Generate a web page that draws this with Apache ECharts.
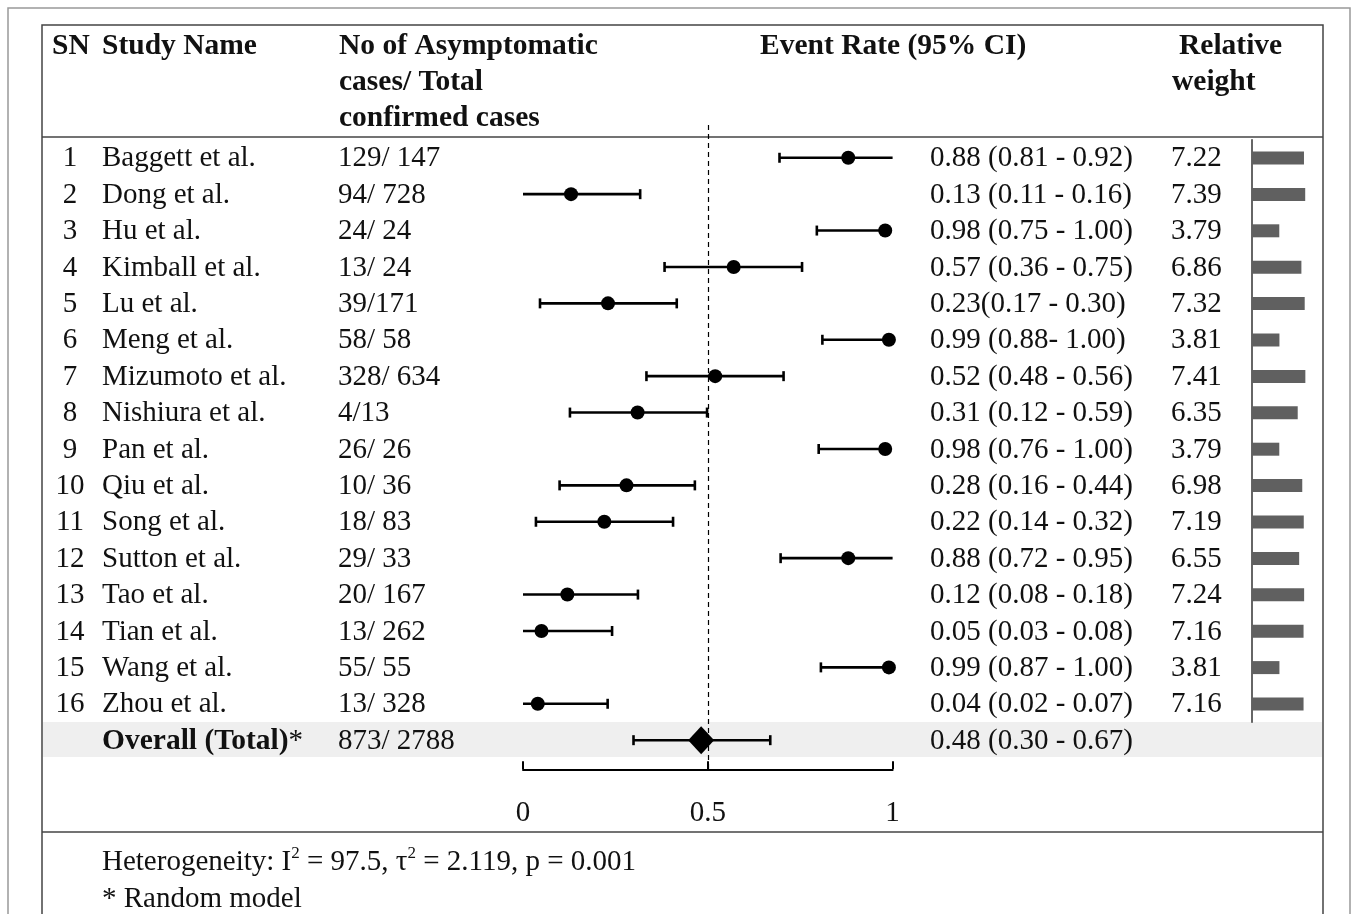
<!DOCTYPE html>
<html>
<head>
<meta charset="utf-8">
<script src="https://cdn.jsdelivr.net/npm/echarts@6/dist/echarts.min.js"></script>
<style>
  html, body { margin: 0; padding: 0; background: #fff; }
  #chart { width: 1357px; height: 914px; }
</style>
</head>
<body>
<div id="chart"></div>
<script>
// study table
const snLabels = ['1','2','3','4','5','6','7','8','9','10','11','12','13','14','15','16'];
const studies = ['Baggett et al.','Dong et al.','Hu et al.','Kimball et al.','Lu et al.','Meng et al.',
  'Mizumoto et al.','Nishiura et al.','Pan et al.','Qiu et al.','Song et al.','Sutton et al.',
  'Tao et al.','Tian et al.','Wang et al.','Zhou et al.'];
const cases = ['129/ 147','94/ 728','24/ 24','13/ 24','39/171','58/ 58','328/ 634','4/13',
  '26/ 26','10/ 36','18/ 83','29/ 33','20/ 167','13/ 262','55/ 55','13/ 328'];
const rateText = ['0.88 (0.81 - 0.92)','0.13 (0.11 - 0.16)','0.98 (0.75 - 1.00)','0.57 (0.36 - 0.75)',
  '0.23(0.17 - 0.30)','0.99 (0.88- 1.00)','0.52 (0.48 - 0.56)','0.31 (0.12 - 0.59)',
  '0.98 (0.76 - 1.00)','0.28 (0.16 - 0.44)','0.22 (0.14 - 0.32)','0.88 (0.72 - 0.95)',
  '0.12 (0.08 - 0.18)','0.05 (0.03 - 0.08)','0.99 (0.87 - 1.00)','0.04 (0.02 - 0.07)'];
const weights = [7.22,7.39,3.79,6.86,7.32,3.81,7.41,6.35,3.79,6.98,7.19,6.55,7.24,7.16,3.81,7.16];

// what is drawn in the plot (whiskers as drawn in the figure)
const pointEst = [0.88,0.13,0.98,0.57,0.23,0.99,0.52,0.31,0.98,0.28,0.22,0.88,0.12,0.05,0.99,0.04];
const drawnLo = [0.694,0.0,0.795,0.383,0.046,0.810,0.334,0.127,0.800,0.099,0.035,0.697,0.0,0.0,0.806,0.0];
const drawnHi = [1.0,0.317,0.98,0.755,0.416,0.99,0.705,0.498,0.98,0.465,0.406,1.0,0.311,0.241,0.99,0.229];

// pooled
const overallLabel = 'Overall (Total)';
const overallCases = '873/ 2788';
const overallText = '0.48 (0.30 - 0.67)';
const overallEst = 0.482;
const overallLo = 0.299;
const overallHi = 0.669;

const xTicks = [0, 0.5, 1];

const FONT = '"Liberation Serif", "Times New Roman", serif';
const BODY = '29px ' + FONT;
const BOLD = 'bold 29.5px ' + FONT;
const ROW_OVERALL = studies.length;

const chart = echarts.init(document.getElementById('chart'));

// whisker rows: [lo, hi, row, capLo, capHi]
const ciData = studies.map((s, i) => [
  drawnLo[i], drawnHi[i], i,
  drawnLo[i] > 0.001 ? 1 : 0,
  (drawnHi[i] < 0.995 && drawnHi[i] > pointEst[i] + 0.01) ? 1 : 0
]);
ciData.push([overallLo, overallHi, ROW_OVERALL, 1, 1]);

function renderCI(params, api) {
  const lo = api.value(0), hi = api.value(1), row = api.value(2);
  const a = api.coord([lo, row]);
  const b = api.coord([hi, row]);
  const st = { stroke: '#000', lineWidth: 2.6 };
  const kids = [{ type: 'line', shape: { x1: a[0], y1: a[1], x2: b[0], y2: b[1] }, style: st }];
  if (api.value(3)) kids.push({ type: 'line', shape: { x1: a[0], y1: a[1] - 5, x2: a[0], y2: a[1] + 5 }, style: st });
  if (api.value(4)) kids.push({ type: 'line', shape: { x1: b[0], y1: b[1] - 5, x2: b[0], y2: b[1] + 5 }, style: st });
  return { type: 'group', children: kids };
}

function txt(x, y, text, extra) {
  return {
    type: 'text', x: x, y: y,
    style: Object.assign({ text: text, font: BODY, fill: '#111', verticalAlign: 'middle', align: 'left' }, extra || {})
  };
}

function renderTable(params, api) {
  const i = params.dataIndex;
  const y = api.coord([0, api.value(0)])[1] + 1;
  if (i < studies.length) {
    return { type: 'group', children: [
      txt(70, y, snLabels[i], { align: 'center' }),
      txt(102, y, studies[i]),
      txt(338, y, cases[i]),
      txt(930, y, rateText[i]),
      txt(1171, y, weights[i].toFixed(2))
    ] };
  }
  return { type: 'group', children: [
    {
      type: 'text', x: 102, y: y,
      style: {
        text: '{b|' + overallLabel + '}{n|*}', verticalAlign: 'middle',
        rich: {
          b: { font: BOLD, fill: '#111' },
          n: { font: BODY, fill: '#111' }
        }
      }
    },
    txt(338, y, overallCases),
    txt(930, y, overallText)
  ] };
}

const tableRows = studies.map((s, i) => [i]).concat([[ROW_OVERALL]]);

const hdr = (x, y, t) => ({
  type: 'text', x: x, y: y, z: 5,
  style: { text: t, font: BOLD, fill: '#111', verticalAlign: 'middle' }
});

const option = {
  backgroundColor: '#fff',
  animation: false,
  grid: [
    { left: 523, width: 369.6, top: 125, height: 644.3 },
    { left: 1252, width: 72, top: 139.8, height: 582.4 }
  ],
  xAxis: [
    {
      gridIndex: 0, type: 'value', min: 0, max: 1, interval: 0.5,
      axisLine: { show: true, onZero: false, lineStyle: { color: '#000', width: 2 } },
      axisTick: { show: true, inside: true, length: 8, lineStyle: { color: '#000', width: 2 } },
      axisLabel: {
        margin: 30, fontSize: 29, fontFamily: FONT, color: '#111',
        formatter: v => xTicks.indexOf(v) >= 0 ? String(v) : ''
      },
      splitLine: { show: false }
    },
    { gridIndex: 1, type: 'value', min: 0, max: 10, show: false }
  ],
  yAxis: [
    { gridIndex: 0, type: 'value', inverse: true, min: -0.9, max: 16.8, show: false },
    {
      gridIndex: 1, type: 'category', inverse: true, data: studies,
      axisLine: { show: true, lineStyle: { color: '#333', width: 1.5 } },
      axisTick: { show: false }, axisLabel: { show: false }
    }
  ],
  graphic: [
    // outer frame and table frame
    { type: 'rect', z: 0, shape: { x: 8, y: 8, width: 1342, height: 930 }, style: { fill: 'none', stroke: '#999', lineWidth: 1.5 } },
    { type: 'rect', z: 0, shape: { x: 42, y: 25, width: 1281, height: 920 }, style: { fill: 'none', stroke: '#444', lineWidth: 1.5 } },
    { type: 'line', z: 0, shape: { x1: 42, y1: 137, x2: 1323, y2: 137 }, style: { stroke: '#444', lineWidth: 1.5 } },
    { type: 'line', z: 0, shape: { x1: 42, y1: 832, x2: 1323, y2: 832 }, style: { stroke: '#444', lineWidth: 1.5 } },
    // overall band
    { type: 'rect', z: -1, shape: { x: 43, y: 722, width: 1279, height: 35 }, style: { fill: '#efefef' } },
    // headers
    hdr(52, 46, 'SN'),
    hdr(102, 46, 'Study Name'),
    hdr(339, 46, 'No of Asymptomatic'),
    hdr(339, 82, 'cases/ Total'),
    hdr(339, 118, 'confirmed cases'),
    hdr(760, 46, 'Event Rate (95% CI)'),
    hdr(1179, 46, 'Relative'),
    hdr(1172, 82, 'weight'),
    // footer
    {
      type: 'text', x: 102, y: 861, z: 5,
      style: {
        text: '{n|Heterogeneity: I}{s|2}{n| = 97.5, τ}{s|2}{n| = 2.119, p = 0.001}',
        verticalAlign: 'middle',
        rich: {
          n: { font: '29px ' + FONT, fill: '#111', lineHeight: 32, verticalAlign: 'bottom' },
          s: { font: '17px ' + FONT, fill: '#111', lineHeight: 32, verticalAlign: 'top' }
        }
      }
    },
    { type: 'text', x: 102, y: 899, z: 5, style: { text: '* Random model', font: '29px ' + FONT, fill: '#111', verticalAlign: 'middle' } }
  ],
  series: [
    {
      type: 'custom', xAxisIndex: 0, yAxisIndex: 0, clip: false, z: 3,
      renderItem: renderCI, data: ciData,
      markLine: {
        silent: true, symbol: 'none', label: { show: false },
        lineStyle: { color: '#000', width: 1.2, type: [5, 4] },
        data: [{ xAxis: 0.5 }]
      }
    },
    {
      type: 'scatter', xAxisIndex: 0, yAxisIndex: 0, z: 4,
      symbol: 'circle', symbolSize: 14,
      itemStyle: { color: '#000', opacity: 1 },
      data: pointEst.map((v, i) => [v, i])
    },
    {
      type: 'scatter', xAxisIndex: 0, yAxisIndex: 0, z: 4,
      symbol: 'diamond', symbolSize: [26, 28],
      itemStyle: { color: '#000', opacity: 1 },
      data: [[overallEst, ROW_OVERALL]]
    },
    {
      type: 'custom', xAxisIndex: 0, yAxisIndex: 0, clip: false, z: 5,
      renderItem: renderTable, data: tableRows
    },
    {
      type: 'bar', xAxisIndex: 1, yAxisIndex: 1,
      barWidth: 13, itemStyle: { color: '#606060' },
      data: weights
    }
  ]
};

chart.setOption(option);
</script>
</body>
</html>
